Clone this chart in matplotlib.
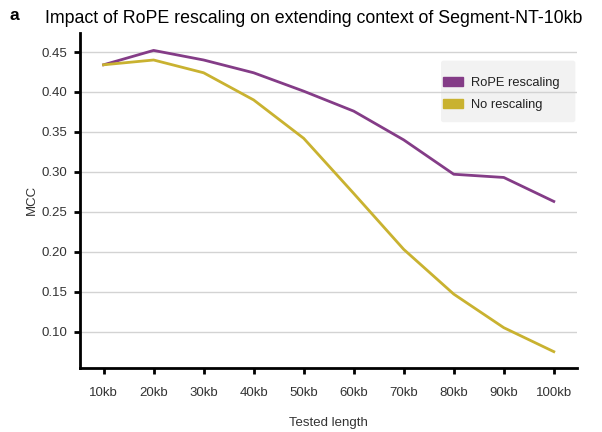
import matplotlib.pyplot as plt
from matplotlib.patches import FancyBboxPatch

plt.rcParams["font.family"] = ["Liberation Sans", "DejaVu Sans"]

lengths = [10, 20, 30, 40, 50, 60, 70, 80, 90, 100]
tick_labels = ["10kb", "20kb", "30kb", "40kb", "50kb", "60kb", "70kb", "80kb", "90kb", "100kb"]
rope_rescaling = [0.434, 0.452, 0.440, 0.424, 0.401, 0.376, 0.340, 0.297, 0.293, 0.263]
no_rescaling = [0.434, 0.440, 0.424, 0.390, 0.342, 0.273, 0.203, 0.147, 0.105, 0.075]

PURPLE = "#843c87"
YELLOW = "#c9b230"
TEXT = "#333333"

fig = plt.figure(figsize=(6.02, 4.32), dpi=100)
ax = fig.add_axes([0.133, 0.149, 0.826, 0.775])

ax.plot(lengths, rope_rescaling, color=PURPLE, lw=2, zorder=3)
ax.plot(lengths, no_rescaling, color=YELLOW, lw=2, zorder=3)

ax.set_xlim(5.3, 104.7)
ax.set_ylim(0.055, 0.474)
ax.set_xticks(lengths)
ax.set_xticklabels(tick_labels)
ax.set_yticks([0.10, 0.15, 0.20, 0.25, 0.30, 0.35, 0.40, 0.45])
ax.set_yticklabels([f"{v:.2f}" for v in ax.get_yticks()])

ax.set_axisbelow(True)
ax.grid(axis="y", color="#d3d3d3", lw=1)
for side in ("top", "right"):
    ax.spines[side].set_visible(False)
for side in ("left", "bottom"):
    ax.spines[side].set_linewidth(2)
ax.tick_params(direction="out", length=4, width=2, labelsize=9.5,
               labelcolor=TEXT, pad=5)
ax.tick_params(axis="x", pad=10)

ax.set_ylabel("MCC", fontsize=9.5, color=TEXT, labelpad=3)
ax.set_xlabel("Tested length", fontsize=9.5, color=TEXT, labelpad=13)

# legend panel, drawn under the grid like the reference
panel = FancyBboxPatch((0.726, 0.733), 0.270, 0.184, transform=ax.transAxes,
                       boxstyle="round,pad=0,rounding_size=0.006",
                       facecolor="#f2f2f2", edgecolor="none", zorder=0.2,
                       clip_on=False)
ax.add_patch(panel)

handles = [plt.Rectangle((0, 0), 1, 1, color=PURPLE),
           plt.Rectangle((0, 0), 1, 1, color=YELLOW)]
leg = ax.legend(handles, ["RoPE rescaling", "No rescaling"], loc="center left",
                bbox_to_anchor=(0.7304, 0.818), fontsize=9.3, frameon=False,
                borderpad=0, handlelength=1.55, handleheight=0.7,
                labelspacing=0.75, handletextpad=0.6, borderaxespad=0)
for t in leg.get_texts():
    t.set_color("#222222")

fig.text(0.075, 0.958, "Impact of RoPE rescaling on extending context of Segment-NT-10kb",
         fontsize=12.8, ha="left", va="center")
fig.text(0.015, 0.963, "a", fontsize=12.5, fontweight="bold", ha="left", va="center")

fig.savefig("out.png", dpi=100)
